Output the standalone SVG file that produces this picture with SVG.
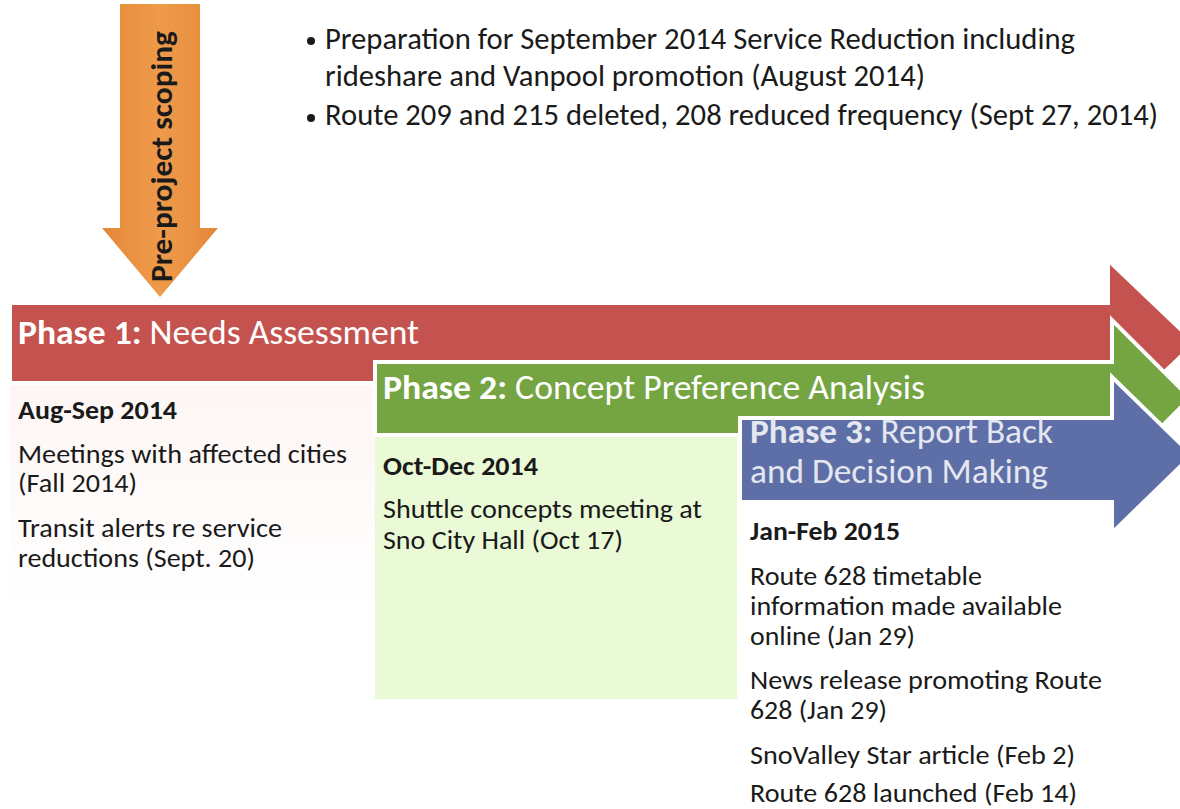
<svg xmlns="http://www.w3.org/2000/svg" width="1180" height="809" viewBox="0 0 1180 809">
<defs>
<linearGradient id="g1bg" x1="0" y1="0" x2="0" y2="1">
<stop offset="0" stop-color="#fdf6f4"/>
<stop offset="1" stop-color="#ffffff"/>
</linearGradient>
<linearGradient id="orangeG" x1="0" y1="0" x2="1" y2="0">
<stop offset="0" stop-color="#e5883a"/>
<stop offset="0.5" stop-color="#ee9a4a"/>
<stop offset="1" stop-color="#e5883a"/>
</linearGradient>
</defs>
<style>
text { font-family: Carlito, "Open Sans", sans-serif; }
.body { font-size: 26px; fill: #1a1a1a; }
.date { font-size: 26px; font-weight: bold; fill: #1a1a1a; }
.bul { font-size: 30px; fill: #1a1a1a; }
.title { font-size: 35px; fill: #ffffff; }
.title3 { font-size: 35px; fill: #e4e7f0; }
.b { font-weight: bold; }
.arrow { stroke: #ffffff; stroke-width: 4; stroke-linejoin: miter; }
</style>
<rect width="1180" height="809" fill="#ffffff"/>

<g id="bullets">
<circle cx="311" cy="41" r="4" fill="#1a1a1a"/>
<text class="bul" x="325" y="49" textLength="750" lengthAdjust="spacingAndGlyphs">Preparation for September 2014 Service Reduction including</text>
<text class="bul" x="325" y="86" textLength="600" lengthAdjust="spacingAndGlyphs">rideshare and Vanpool promotion (August 2014)</text>
<circle cx="311" cy="118" r="4" fill="#1a1a1a"/>
<text class="bul" x="325" y="125" textLength="833" lengthAdjust="spacingAndGlyphs">Route 209 and 215 deleted, 208 reduced frequency (Sept 27, 2014)</text>
</g>

<g id="phase1-box">
<rect x="10" y="383" width="365" height="230" fill="url(#g1bg)"/>
</g>
<g id="phase2-box">
<rect x="375" y="435" width="362" height="264" fill="#eaf9d6"/>
</g>

<g id="pre-project">
<polygon points="120,4 200,4 200,228 218,228 160,297 102,228 120,228" fill="url(#orangeG)"/>
<text class="b" transform="translate(172,282) rotate(-90)" font-size="30" fill="#1a1a1a" textLength="251" lengthAdjust="spacingAndGlyphs">Pre-project scoping</text>
</g>

<g id="phase1">
<polygon class="arrow" points="10,303 1108,303 1108,260 1195,343 1108,426 1108,383 10,383" fill="#c4534f"/>
<text class="title" x="18" y="344" textLength="401" lengthAdjust="spacingAndGlyphs"><tspan class="b">Phase 1:</tspan> Needs Assessment</text>
</g>

<g id="phase2">
<polygon class="arrow" points="375,362 1112,362 1112,320 1190,398 1112,477 1112,435 375,435" fill="#75a443"/>
<text class="title" x="383" y="399" textLength="542" lengthAdjust="spacingAndGlyphs"><tspan class="b">Phase 2:</tspan> Concept Preference Analysis</text>
</g>

<g id="phase3">
<polygon class="arrow" points="740,418 1112,418 1112,377 1192,455 1112,533 1112,502 740,502" fill="#5e6ea6"/>
<text class="title3" x="750" y="443" textLength="303" lengthAdjust="spacingAndGlyphs"><tspan class="b">Phase 3:</tspan> Report Back</text>
<text class="title3" x="750" y="483" textLength="298" lengthAdjust="spacingAndGlyphs">and Decision Making</text>
</g>

<g id="phase1-text">
<text class="date" x="18" y="419" textLength="159" lengthAdjust="spacingAndGlyphs">Aug-Sep 2014</text>
<text class="body" x="18" y="463" textLength="329" lengthAdjust="spacingAndGlyphs">Meetings with affected cities</text>
<text class="body" x="18" y="492" textLength="119" lengthAdjust="spacingAndGlyphs">(Fall 2014)</text>
<text class="body" x="18" y="537" textLength="264" lengthAdjust="spacingAndGlyphs">Transit alerts re service</text>
<text class="body" x="18" y="567" textLength="237" lengthAdjust="spacingAndGlyphs">reductions (Sept. 20)</text>
</g>

<g id="phase2-text">
<text class="date" x="383" y="475" textLength="155" lengthAdjust="spacingAndGlyphs">Oct-Dec 2014</text>
<text class="body" x="383" y="518" textLength="319" lengthAdjust="spacingAndGlyphs">Shuttle concepts meeting at</text>
<text class="body" x="383" y="549" textLength="240" lengthAdjust="spacingAndGlyphs">Sno City Hall (Oct 17)</text>
</g>

<g id="phase3-text">
<text class="date" x="750" y="540" textLength="150" lengthAdjust="spacingAndGlyphs">Jan-Feb 2015</text>
<text class="body" x="750" y="585" textLength="232" lengthAdjust="spacingAndGlyphs">Route 628 timetable</text>
<text class="body" x="750" y="615" textLength="312" lengthAdjust="spacingAndGlyphs">information made available</text>
<text class="body" x="750" y="645" textLength="165" lengthAdjust="spacingAndGlyphs">online (Jan 29)</text>
<text class="body" x="750" y="689" textLength="352" lengthAdjust="spacingAndGlyphs">News release promoting Route</text>
<text class="body" x="750" y="719" textLength="137" lengthAdjust="spacingAndGlyphs">628 (Jan 29)</text>
<text class="body" x="750" y="764" textLength="325" lengthAdjust="spacingAndGlyphs">SnoValley Star article (Feb 2)</text>
<text class="body" x="750" y="802" textLength="327" lengthAdjust="spacingAndGlyphs">Route 628 launched (Feb 14)</text>
</g>
</svg>
